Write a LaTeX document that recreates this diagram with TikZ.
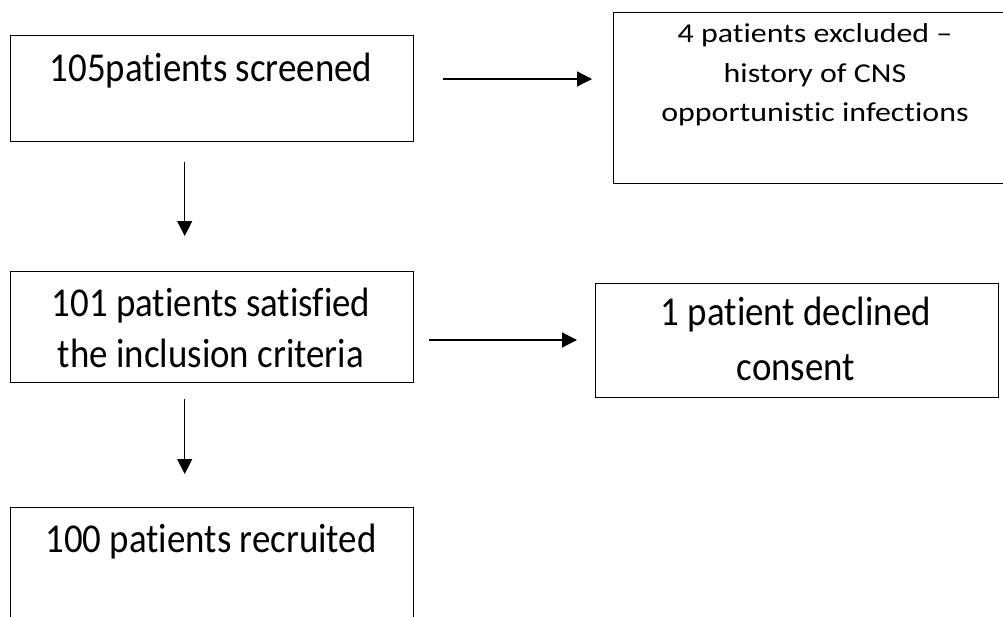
\documentclass[tikz,border=0pt]{standalone}
\usepackage{fontspec}
\setmainfont{Carlito}[FakeStretch=0.9, Ligatures=NoCommon]
\newfontfamily\smallfam{Carlito}[FakeStretch=1.17, Ligatures=NoCommon]
\usetikzlibrary{arrows.meta,calc}
\tikzset{
  box/.style={draw, line width=1.4pt, inner sep=0pt, anchor=north west},
  lbl/.style={anchor=base, inner sep=0pt, font=\fontsize{41}{41}\selectfont},
  lblsmall/.style={anchor=base, inner sep=0pt, font=\smallfam\fontsize{27.3}{27.3}\selectfont},
  arr/.style={line width=1.2pt, -{Triangle[length=15pt,width=15pt]}}
}
\begin{document}
\begin{tikzpicture}[x=1pt,y=1pt]
\useasboundingbox (0,0) rectangle (1003,-616);
\clip (0,0) rectangle (1003,-616);
% boxes
\node[box, minimum width=403pt, minimum height=106pt] (b1) at (10,-35) {};
\node[box, minimum width=425pt, minimum height=171pt] (b2) at (613,-12) {};
\node[box, minimum width=403pt, minimum height=111pt] (b3) at (10,-271) {};
\node[box, minimum width=403pt, minimum height=114pt] (b4) at (595,-283) {};
\node[box, minimum width=403pt, minimum height=120pt] (b5) at (10,-507) {};
% texts
\node[lbl] (t1) at (211,-81) {105patients screened};
\node[lblsmall] (t2a) at (815,-42) {4 patients excluded –};
\node[lblsmall] (t2b) at (815,-82) {history of CNS};
\node[lblsmall] (t2c) at (815,-121) {opportunistic infections};
\node[lbl] (t3a) at (211,-316) {101 patients satisfied};
\node[lbl] (t3b) at (211,-367) {the inclusion criteria};
\node[lbl] (t4a) at (796,-325) {1 patient declined};
\node[lbl] (t4b) at (796,-380) {consent};
\node[lbl] (t5) at (211,-552) {100 patients recruited};
% connectors
\draw[arr] ([xshift=-27.5pt,yshift=-20pt]b1.south) -- ([xshift=-27.5pt,yshift=35pt]b3.north);
\draw[arr] ([xshift=-27.5pt,yshift=-16pt]b3.south) -- ([xshift=-27.5pt,yshift=33pt]b5.north);
\draw[arr] ([xshift=29pt]b1.east |- 0,-79) -- ([xshift=-21pt]b2.west |- 0,-79);
\draw[arr] ([xshift=15pt]b3.east |- 0,-340) -- ([xshift=-18pt]b4.west |- 0,-340);
\end{tikzpicture}
\end{document}
